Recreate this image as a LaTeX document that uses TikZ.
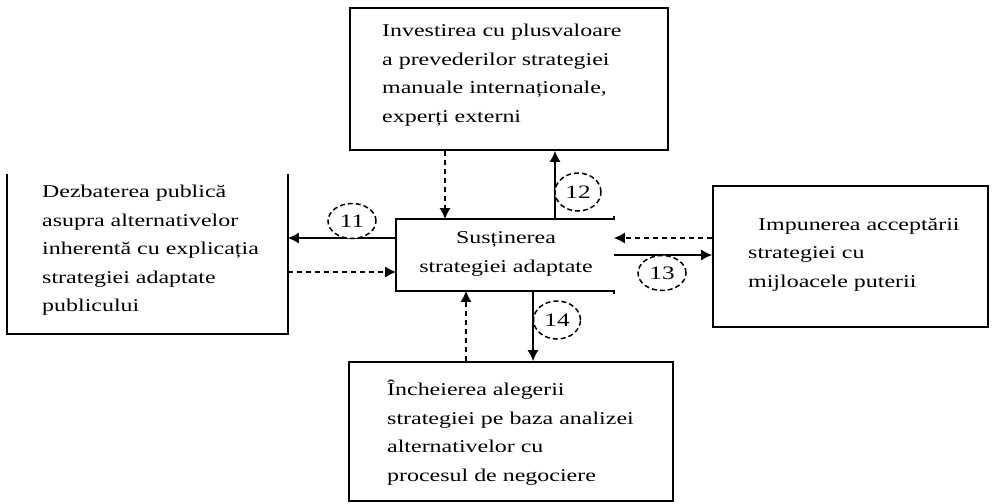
\documentclass[tikz,border=0pt]{standalone}
\usepackage{fontspec}
\setmainfont{Liberation Serif}
\newfontfamily\boxfont[FakeStretch=1.33]{Liberation Serif}
\usetikzlibrary{arrows.meta,shapes.geometric}
\begin{document}
\begin{tikzpicture}[x=1pt,y=-1pt,
  boxshape/.style={rectangle,inner sep=0pt,line width=1.6pt},
  boxtext/.style={inner sep=0pt,anchor=north west,align=left,
    font=\boxfont\fontsize{18}{28.5}\selectfont},
  flow/.style={line width=1.5pt,-{Latex[length=11pt,width=11pt]}},
  feedback/.style={line width=1.5pt,dash pattern=on 5pt off 4pt,
    -{Latex[length=11pt,width=11pt]}},
  tag/.style={ellipse,draw,line width=1.5pt,dash pattern=on 5pt off 3pt,
    inner sep=0pt,fill=white,
    font=\boxfont\fontsize{19}{19}\selectfont}]
\useasboundingbox (0,0) rectangle (992,503);
\fill[white] (0,0) rectangle (992,503);

% boxes
\node[boxshape,draw,minimum width=318pt,minimum height=142pt] (T) at (509,79) {};
\node[boxshape,minimum width=279pt,minimum height=158pt] (L) at (147.5,254) {};
\draw[line width=1.6pt] (L.north west) -- (L.south west) -- (L.south east) -- (L.north east);
\node[boxshape,minimum width=216pt,minimum height=70pt] (C) at (505,255) {};
\draw[line width=1.6pt] ([yshift=3pt]C.north east) -- (C.north east) -- (C.north west)
  -- (C.south west) -- (C.south east) -- ([yshift=-3pt]C.south east);
\node[boxshape,draw,minimum width=275pt,minimum height=141pt] (R) at (850.5,256.5) {};
\node[boxshape,draw,minimum width=324pt,minimum height=139pt] (B) at (511,431.5) {};

% box texts
\node[boxtext] (Tt) at (382,24) {Investirea cu plusvaloare\\a prevederilor strategiei\\manuale internaționale,\\experți externi};
\node[boxtext] (Lt) at (42,185) {Dezbaterea publică\\asupra alternativelor\\inherentă cu explicația\\strategiei adaptate\\publicului};
\node[inner sep=0pt,align=center,font=\boxfont\fontsize{18}{28.5}\selectfont] (Ct) at (506,254) {Susținerea\\strategiei adaptate};
\node[boxtext] (Rt) at (748,218) {\hspace*{10pt}Impunerea acceptării\\strategiei cu\\mijloacele puterii};
\node[boxtext] (Bt) at (387,380) {Încheierea alegerii\\strategiei pe baza analizei\\alternativelor cu\\procesul de negociere};

% connectors
\draw[flow] (C.west |- 0,238) -- (L.east |- 0,238);
\draw[feedback] (L.east |- 0,272) -- (C.west |- 0,272);
\draw[feedback] (T.south -| 445,0) -- (C.north -| 445,0);
\draw[flow] (C.north -| 555,0) -- (T.south -| 555,0);
\draw[feedback] (R.west |- 0,238) -- (C.east |- 0,238);
\draw[flow] (C.east |- 0,255) -- (R.west |- 0,255);
\draw[feedback] (B.north -| 466,0) -- (C.south -| 466,0);
\draw[flow] (C.south -| 533,0) -- (B.north -| 533,0);

% numbered tags
\node[tag,minimum width=48pt,minimum height=35pt] (n11) at (352,221) {11};
\node[tag,minimum width=46pt,minimum height=38pt] (n12) at (578,192) {12};
\node[tag,minimum width=48pt,minimum height=35pt] (n13) at (662,273) {13};
\node[tag,minimum width=47pt,minimum height=38pt] (n14) at (557,320) {14};
\end{tikzpicture}
\end{document}
